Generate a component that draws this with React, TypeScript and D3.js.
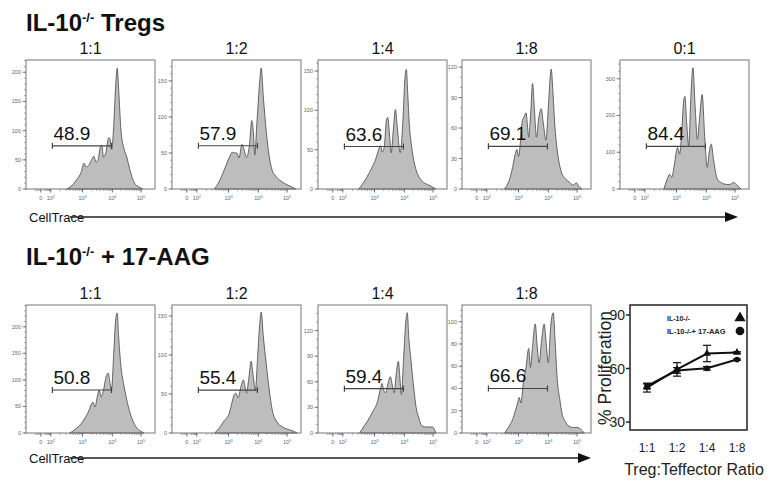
import * as d3 from 'd3';

const FONT = '"Liberation Sans", Arial, Helvetica, sans-serif';

// histogram x axis (logicle display units: "0", 10^2 .. 10^5)
const xTickUnits = [1, 2, 3, 4, 5];
const xTickExp = ['', '2', '3', '4', '5'];
const xTickFrac = [15, 25, 57, 87, 116].map(p => p / 130);
const gateUnits = [2.05, 3.97];

// ---- top row: IL-10-/- Tregs ----
const topRatios = ['1:1', '1:2', '1:4', '1:8', '0:1'];
const topPercents = ['48.9', '57.9', '63.6', '69.1', '84.4'];
const topYMax = [221, 179, 164, 127, 351];
const topYTicks = [[0, 50, 100, 150, 200], [0, 50, 100, 150], [0, 50, 100, 150], [0, 30, 60, 90, 120], [0, 100, 200, 300]];
const topYMinor = [10, 10, 10, 10, 20];
const topGateY = [74, 60, 54, 42, 116];

const histTop11 = [[2.5, 0], [2.65, 5], [2.8, 15], [2.95, 28], [3.05, 44], [3.12, 38], [3.2, 40], [3.3, 50], [3.38, 56], [3.45, 46], [3.52, 50], [3.6, 72], [3.65, 74], [3.7, 55], [3.78, 62], [3.88, 88], [3.92, 86], [3.98, 68], [4.05, 110], [4.12, 180], [4.17, 207], [4.22, 170], [4.3, 100], [4.4, 70], [4.5, 55], [4.6, 35], [4.7, 18], [4.8, 8], [4.95, 3], [5.05, 0]];
const histTop12 = [[2.55, 0], [2.7, 10], [2.85, 25], [2.95, 36], [3.05, 46], [3.12, 51], [3.2, 50], [3.28, 50], [3.35, 43], [3.45, 62], [3.52, 55], [3.6, 44], [3.7, 60], [3.78, 95], [3.83, 80], [3.88, 47], [3.95, 90], [4.05, 150], [4.1, 168], [4.17, 130], [4.28, 78], [4.38, 45], [4.48, 26], [4.6, 18], [4.75, 12], [4.9, 8], [5.1, 4], [5.3, 0]];
const histTop14 = [[2.5, 0], [2.65, 8], [2.84, 21], [2.95, 30], [3.03, 37], [3.12, 48], [3.2, 55], [3.26, 47], [3.33, 55], [3.4, 88], [3.44, 91], [3.5, 70], [3.56, 46], [3.63, 75], [3.7, 101], [3.76, 80], [3.86, 46], [3.95, 85], [4.02, 140], [4.07, 152], [4.12, 120], [4.17, 84], [4.25, 55], [4.34, 34], [4.45, 20], [4.62, 10], [4.85, 5], [5.1, 0]];
const histTop18 = [[2.55, 0], [2.7, 8], [2.81, 21], [2.9, 35], [2.95, 39], [3.0, 32], [3.06, 45], [3.12, 66], [3.2, 72], [3.25, 75], [3.3, 62], [3.34, 51], [3.4, 70], [3.47, 104], [3.53, 80], [3.6, 51], [3.68, 70], [3.76, 79], [3.83, 65], [3.92, 48], [4.0, 80], [4.07, 112], [4.1, 118], [4.16, 95], [4.22, 65], [4.27, 48], [4.35, 30], [4.45, 17], [4.6, 10], [4.72, 7], [4.85, 4], [4.98, 6], [5.05, 3], [5.17, 0]];
const histTop01 = [[2.6, 0], [2.7, 25], [2.78, 40], [2.85, 32], [2.92, 60], [3.0, 105], [3.03, 113], [3.1, 95], [3.17, 150], [3.24, 240], [3.28, 252], [3.34, 180], [3.41, 116], [3.48, 250], [3.55, 330], [3.62, 230], [3.7, 135], [3.78, 200], [3.86, 257], [3.94, 150], [4.03, 59], [4.1, 100], [4.17, 122], [4.25, 80], [4.38, 27], [4.5, 18], [4.6, 14], [4.8, 12], [4.95, 18], [5.05, 12], [5.2, 0]];
const topHists = [histTop11, histTop12, histTop14, histTop18, histTop01];

// ---- bottom row: IL-10-/- + 17-AAG ----
const botRatios = ['1:1', '1:2', '1:4', '1:8'];
const botPercents = ['50.8', '55.4', '59.4', '66.6'];
const botYMax = [241, 164, 150, 115];
const botYTicks = [[0, 50, 100, 150, 200], [0, 50, 100, 150], [0, 30, 60, 90, 120], [0, 20, 40, 60, 80, 100]];
const botYMinor = [10, 10, 10, 5];
const botGateY = [81, 55, 52, 40];

const histBot11 = [[2.6, 0], [2.75, 6], [2.9, 14], [3.0, 21], [3.1, 30], [3.22, 43], [3.3, 55], [3.35, 58], [3.42, 49], [3.5, 70], [3.56, 81], [3.62, 68], [3.7, 80], [3.8, 108], [3.86, 113], [3.92, 95], [3.97, 81], [4.05, 150], [4.12, 215], [4.17, 226], [4.22, 180], [4.3, 125], [4.4, 90], [4.52, 58], [4.65, 32], [4.83, 11], [5.0, 3], [5.1, 0]];
const histBot12 = [[2.56, 0], [2.7, 6], [2.85, 15], [3.03, 26], [3.12, 40], [3.19, 49], [3.25, 51], [3.32, 45], [3.42, 60], [3.5, 68], [3.55, 60], [3.6, 51], [3.68, 70], [3.76, 92], [3.82, 75], [3.9, 55], [3.98, 100], [4.05, 140], [4.1, 155], [4.17, 125], [4.27, 90], [4.38, 55], [4.48, 30], [4.65, 14], [4.83, 8], [5.0, 5], [5.17, 3], [5.35, 0]];
const histBot14 = [[2.53, 0], [2.65, 7], [2.78, 14], [2.94, 25], [3.1, 37], [3.2, 52], [3.25, 58], [3.31, 50], [3.37, 47], [3.45, 58], [3.53, 66], [3.6, 55], [3.66, 47], [3.73, 70], [3.8, 84], [3.85, 65], [3.9, 45], [3.98, 90], [4.05, 130], [4.1, 141], [4.16, 110], [4.24, 82], [4.32, 55], [4.41, 30], [4.5, 18], [4.62, 8], [4.8, 7], [4.97, 7], [5.1, 0]];
const histBot18 = [[2.56, 0], [2.7, 6], [2.81, 12], [2.9, 20], [2.97, 27], [3.02, 32], [3.08, 27], [3.16, 45], [3.25, 59], [3.34, 76], [3.4, 59], [3.46, 75], [3.56, 98], [3.62, 80], [3.69, 63], [3.78, 85], [3.86, 98], [3.93, 80], [4.0, 63], [4.08, 95], [4.17, 108], [4.24, 80], [4.31, 48], [4.4, 30], [4.48, 17], [4.6, 10], [4.72, 6], [4.85, 5], [5.0, 5], [5.25, 0]];
const botHists = [histBot11, histBot12, histBot14, histBot18];

// ---- summary line chart ----
const ratios = ['1:1', '1:2', '1:4', '1:8'];
const il10Mean = [49.3, 59.5, 68.4, 69];
const il10Err = [2.5, 3.8, 4.6, 0.4];
const aagMean = [50.2, 58.9, 60.1, 65];
const aagErr = [1.2, 1.6, 1.0, 0.4];
const propTicks = [30, 60, 90];

const panelLefts = [26, 172, 318, 462, 620];
const panelW = 129;

function Histogram({ left, top, height, title, pct, yMax, yTicks, yMinor, gateY, data }) {
  const width = panelW;
  const x = d3.scaleLinear().domain(xTickUnits).range(xTickFrac.map(f => left + f * width));
  const y = d3.scaleLinear().domain([0, yMax]).range([top + height, top]);
  const area = d3.area<number[]>().x(d => x(d[0])).y0(y(0)).y1(d => y(d[1])).curve(d3.curveMonotoneX);
  const minorX: number[] = [];
  for (let dec = 1; dec <= 4; dec++) for (let k = 2; k <= 9; k++) minorX.push(dec + Math.log10(k));
  [0.45, 0.6, 0.75, 0.9].forEach(u => minorX.push(u));
  const base = top + height;
  const g0 = x(gateUnits[0]), g1 = x(gateUnits[1]), gy = y(gateY);
  return (
    <g>
      <text x={left + width / 2} y={top - 6} textAnchor="middle" fontSize={16} fill="#111">{title}</text>
      <path d={area(data) || ''} fill="#bdbdbd" stroke="#555" strokeWidth={0.9} />
      <rect x={left} y={top} width={width} height={height} fill="none" stroke="#777" strokeWidth={1} />
      {d3.range(0, yMax, yMinor).map(v => (
        <line key={'ym' + v} x1={left - 2} x2={left} y1={y(v)} y2={y(v)} stroke="#777" strokeWidth={0.6} />
      ))}
      {yTicks.map(v => (
        <g key={'yt' + v}>
          <line x1={left - 3.5} x2={left} y1={y(v)} y2={y(v)} stroke="#666" strokeWidth={0.8} />
          <text x={left - 5} y={y(v) + 2} textAnchor="end" fontSize={5.5} fill="#666">{v}</text>
        </g>
      ))}
      {minorX.map((u, i) => (
        <line key={'xm' + i} x1={x(u)} x2={x(u)} y1={base} y2={base + 2} stroke="#777" strokeWidth={0.6} />
      ))}
      {xTickUnits.map((u, i) => (
        <g key={'xt' + u}>
          <line x1={x(u)} x2={x(u)} y1={base} y2={base + 3.5} stroke="#555" strokeWidth={0.9} />
          <text x={x(u)} y={base + 11} textAnchor="middle" fontSize={5.5} fill="#666">
            {xTickExp[i] === '' ? '0' : '10'}
            {xTickExp[i] !== '' && <tspan dy={-2.5} fontSize={4}>{xTickExp[i]}</tspan>}
          </text>
        </g>
      ))}
      <line x1={g0} x2={g1} y1={gy} y2={gy} stroke="#444" strokeWidth={1.2} />
      <line x1={g0} x2={g0} y1={gy - 3} y2={gy + 3} stroke="#444" strokeWidth={1.2} />
      <line x1={g1} x2={g1} y1={gy - 3} y2={gy + 3} stroke="#444" strokeWidth={1.2} />
      <text x={g0 + 1} y={gy - 6} fontSize={19} fill="#111">{pct}</text>
    </g>
  );
}

function LineChart() {
  const left = 630, right = 747, top = 305, bottom = 430;
  const y = d3.scaleLinear().domain([30, 90]).range([422, 315]);
  const yDom = [y.invert(bottom), y.invert(top)];
  const ys = d3.scaleLinear().domain(yDom).range([bottom, top]);
  const x = d3.scalePoint().domain(ratios).range([647, 737]);
  const line = d3.line<number>().x((_, i) => x(ratios[i]) as number).y(d => ys(d));
  const tri = d3.symbol().type(d3.symbolTriangle);
  const circ = d3.symbol().type(d3.symbolCircle);
  const series = [
    { mean: il10Mean, err: il10Err, sym: tri },
    { mean: aagMean, err: aagErr, sym: circ },
  ];
  return (
    <g fontFamily={FONT}>
      <rect x={left} y={top} width={right - left} height={bottom - top} fill="none" stroke="#222" strokeWidth={1.5} />
      {propTicks.map(v => (
        <g key={v}>
          <line x1={left - 4} x2={left} y1={ys(v)} y2={ys(v)} stroke="#222" strokeWidth={1.5} />
          <text x={left - 5} y={ys(v) + 5} textAnchor="end" fontSize={14} fill="#222">{v}</text>
        </g>
      ))}
      {ratios.map(r => (
        <text key={r} x={x(r)} y={452} textAnchor="middle" fontSize={12} fill="#222">{r}</text>
      ))}
      <text transform={`translate(611,368) rotate(-90)`} textAnchor="middle" fontSize={17.5} fill="#222">% Proliferation</text>
      <text x={694} y={475} textAnchor="middle" fontSize={16} fill="#222">Treg:Teffector Ratio</text>
      {series.map((s, si) => (
        <g key={si}>
          <path d={line(s.mean) || ''} fill="none" stroke="#111" strokeWidth={2} />
          {s.mean.map((m, i) => {
            const cx = x(ratios[i]) as number;
            return (
              <g key={i}>
                <line x1={cx} x2={cx} y1={ys(m - s.err[i])} y2={ys(m + s.err[i])} stroke="#111" strokeWidth={1.2} />
                <line x1={cx - 4} x2={cx + 4} y1={ys(m + s.err[i])} y2={ys(m + s.err[i])} stroke="#111" strokeWidth={1.2} />
                <line x1={cx - 4} x2={cx + 4} y1={ys(m - s.err[i])} y2={ys(m - s.err[i])} stroke="#111" strokeWidth={1.2} />
                <path d={s.sym.size(26)() || ''} transform={`translate(${cx},${ys(m)})`} fill="#111" />
              </g>
            );
          })}
        </g>
      ))}
      <text x={667} y={321} fontSize={7} fontWeight="bold" fill="#222">IL-10-/-</text>
      <path d={tri.size(55)() || ''} transform="translate(740,318)" fill="#111" />
      <text x={667} y={334} fontSize={7.5} fontWeight="bold" fill="#222">IL-10-/-+ 17-AAG</text>
      <path d={circ.size(60)() || ''} transform="translate(740,331)" fill="#111" />
    </g>
  );
}

export default function App() {
  return (
    <div style={{ position: 'absolute', left: 0, top: 0, width: 769, height: 483, background: '#fff' }}>
      <svg width={769} height={483} fontFamily={FONT} style={{ display: 'block' }}>
        <rect width={769} height={483} fill="#fff" />
        <text x={26} y={31} fontSize={24} fontWeight="bold" fill="#111">
          IL-10<tspan dy={-9} fontSize={13}>-/-</tspan><tspan dy={9}> Tregs</tspan>
        </text>
        {topHists.map((h, i) => (
          <Histogram key={'t' + i} left={panelLefts[i]} top={60} height={129} title={topRatios[i]} pct={topPercents[i]}
            yMax={topYMax[i]} yTicks={topYTicks[i]} yMinor={topYMinor[i]} gateY={topGateY[i]} data={h} />
        ))}
        <text x={29} y={222} fontSize={13} fill="#111">CellTrace</text>
        <line x1={70} x2={728} y1={217} y2={217} stroke="#222" strokeWidth={1.5} />
        <polygon points="725,212 738,217 725,222" fill="#111" />

        <text x={26} y={265} fontSize={24} fontWeight="bold" fill="#111">
          IL-10<tspan dy={-9} fontSize={13}>-/-</tspan><tspan dy={9}> + 17-AAG</tspan>
        </text>
        {botHists.map((h, i) => (
          <Histogram key={'b' + i} left={panelLefts[i]} top={305} height={128} title={botRatios[i]} pct={botPercents[i]}
            yMax={botYMax[i]} yTicks={botYTicks[i]} yMinor={botYMinor[i]} gateY={botGateY[i]} data={h} />
        ))}
        <text x={29} y={463} fontSize={13} fill="#111">CellTrace</text>
        <line x1={70} x2={580} y1={458} y2={458} stroke="#222" strokeWidth={1.5} />
        <polygon points="578,453 591,458 578,463" fill="#111" />

        <LineChart />
      </svg>
    </div>
  );
}
